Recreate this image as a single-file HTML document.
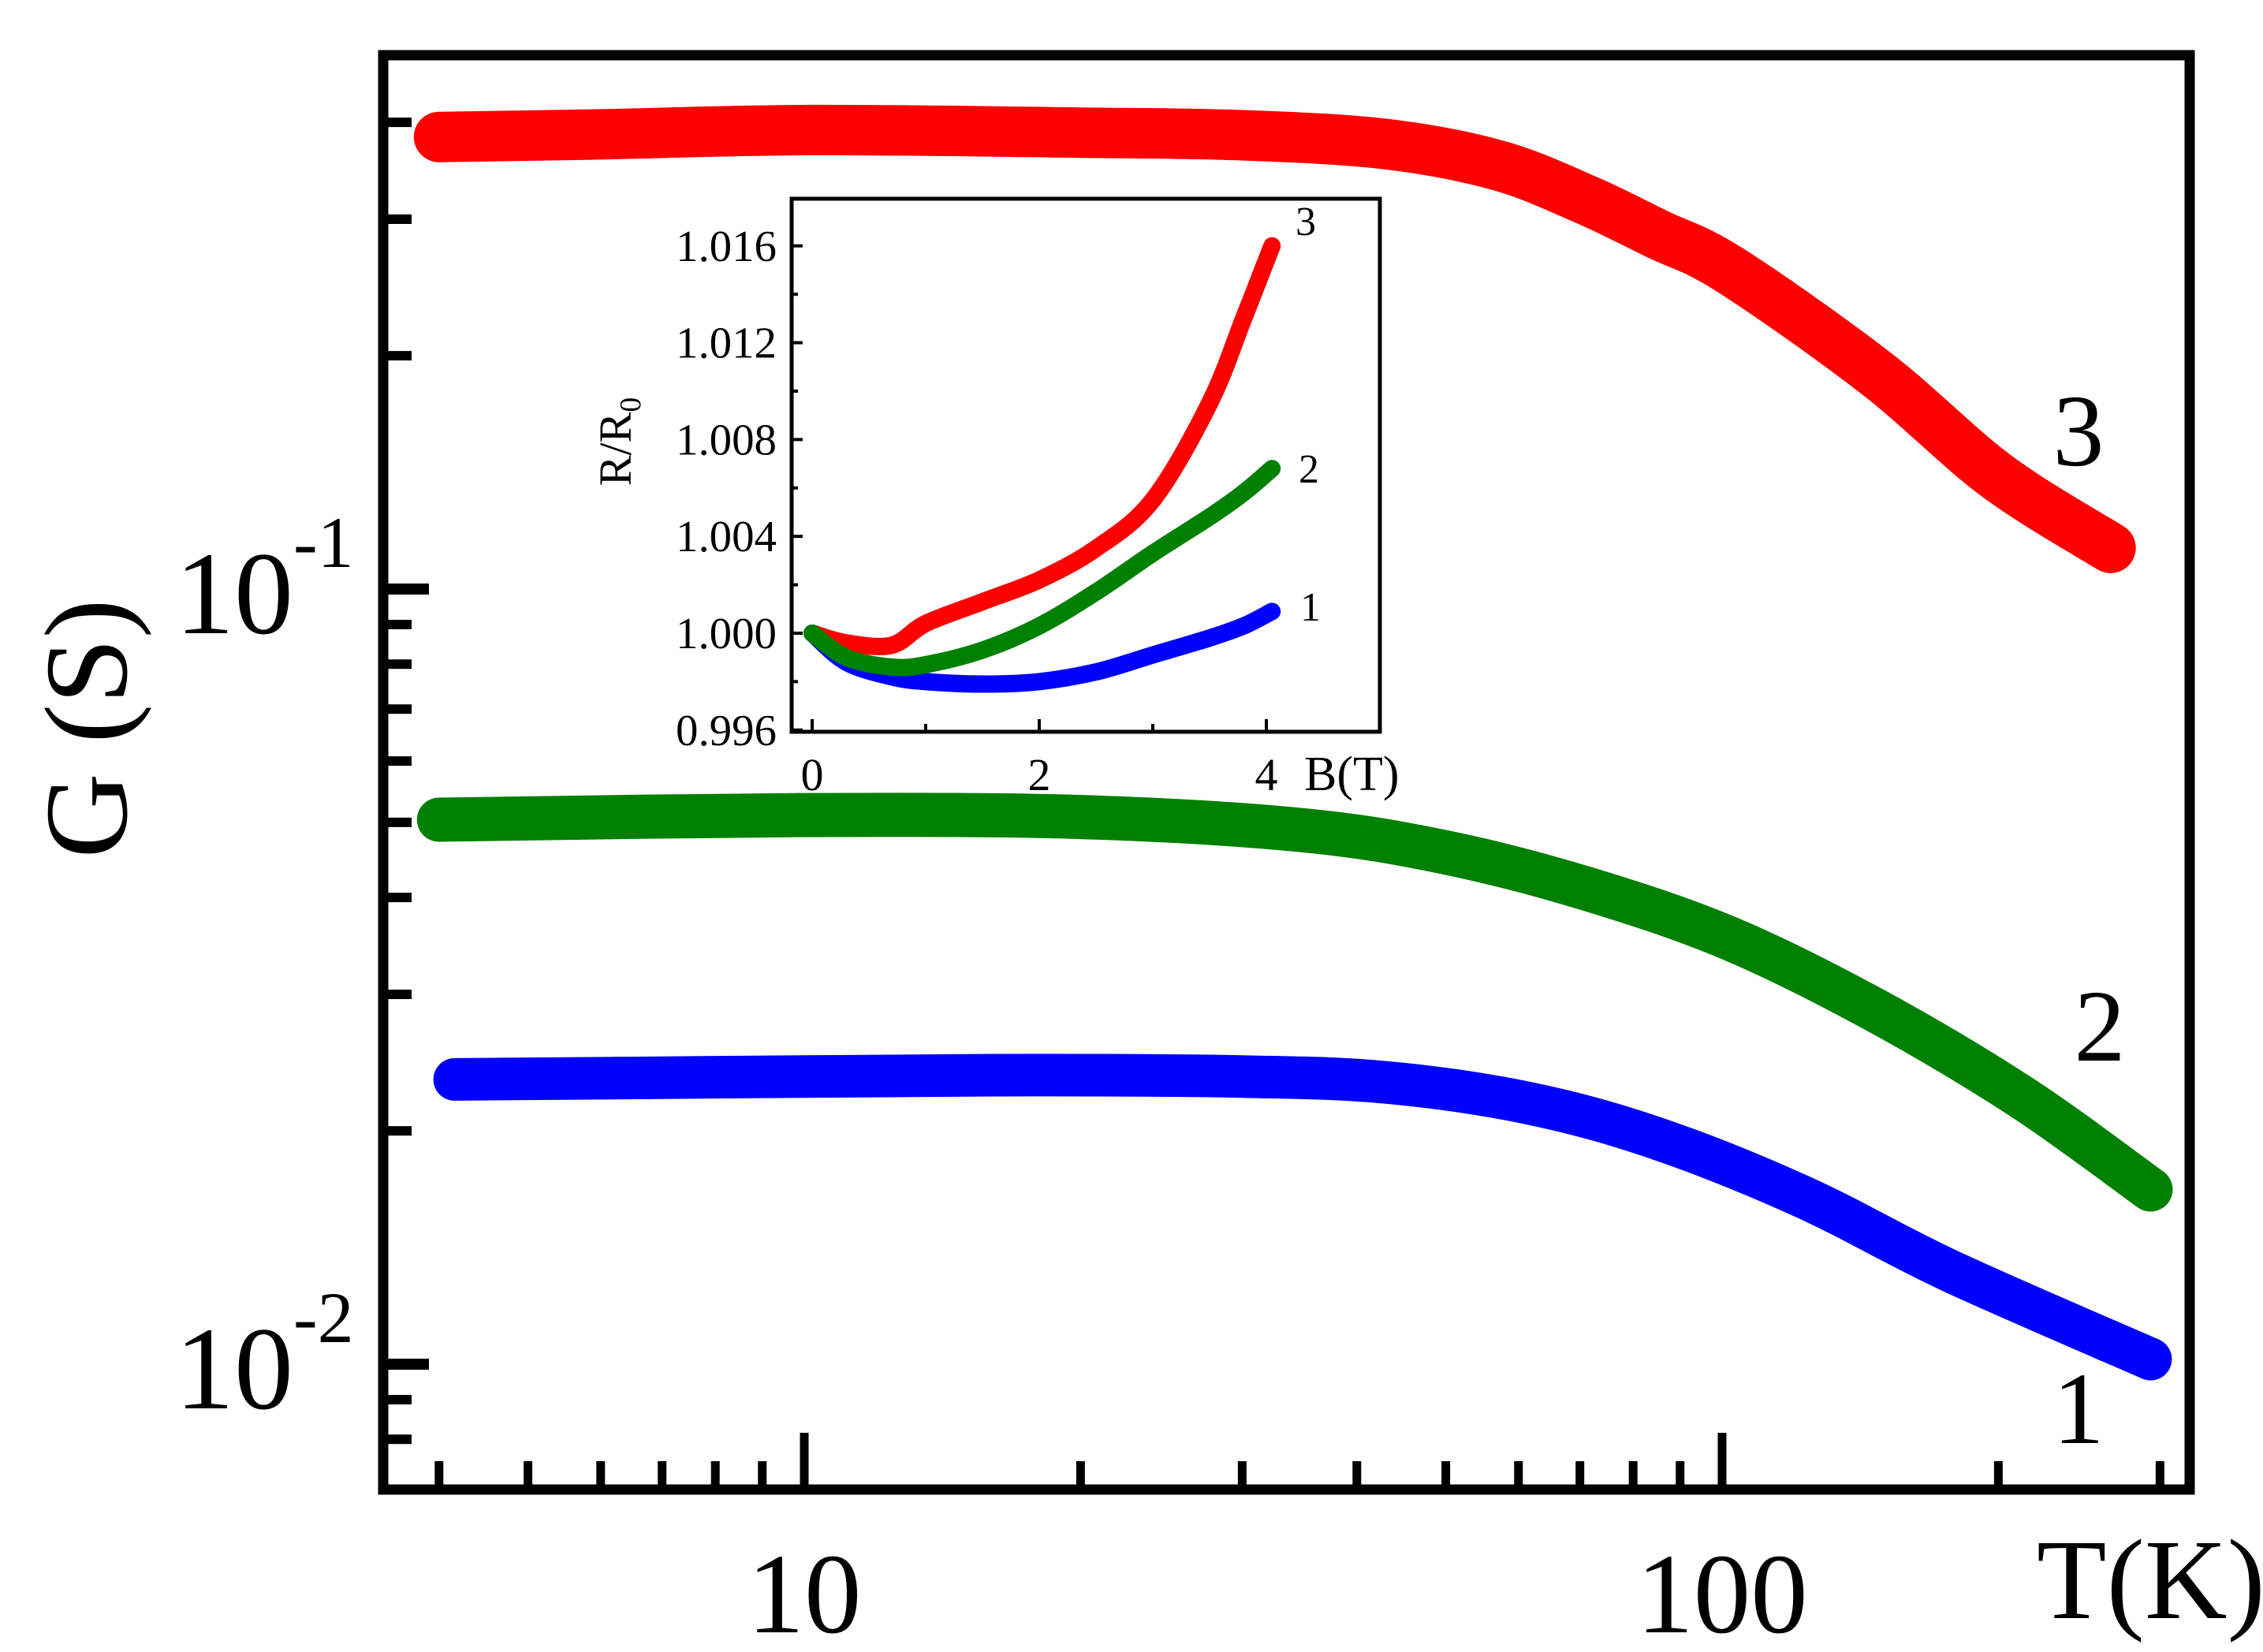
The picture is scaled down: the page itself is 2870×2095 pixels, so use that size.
<!DOCTYPE html>
<html><head><meta charset="utf-8"><style>
html,body{margin:0;padding:0;background:#fff}
svg{display:block;font-family:"Liberation Serif","DejaVu Serif",serif}
</style></head><body>
<svg id="chart" width="2870" height="2095" viewBox="0 0 2870 2095" xmlns="http://www.w3.org/2000/svg">
<g id="main-plot"></g>
<g id="inset-plot"></g>
</svg>
<script>
// ---- main chart data ----
const redT = [4.0, 6, 10.1, 20, 30, 43, 57, 71, 85, 102, 147, 199, 265];
const redG = [0.383, 0.386, 0.391, 0.388, 0.385, 0.375, 0.352, 0.318, 0.287, 0.258, 0.190, 0.140, 0.113];
const greenT = [4.0, 10.1, 20, 34.6, 49.7, 71, 102, 147, 212, 293];
const greenG = [0.0504, 0.0511, 0.0508, 0.0489, 0.0458, 0.0411, 0.0354, 0.0286, 0.0221, 0.0168];
const blueT = [4.16, 10, 18, 30, 43, 61.7, 85.5, 123, 177, 293];
const blueG = [0.0233, 0.0235, 0.0236, 0.0235, 0.0231, 0.0217, 0.0195, 0.0164, 0.0132, 0.01015];
const xMinorTicks = [4,5,6,7,8,9,20,30,40,50,60,70,80,90,200,300];
const xMajorTicks = [10,100];
const xMajorLabels = ["10","100"];
const yMajorTicks = [0.1,0.01];
const yMajorExps = ["-1","-2"];
const yMinorTicks = [0.008,0.009,0.02,0.03,0.04,0.05,0.06,0.07,0.08,0.09,0.2,0.3,0.4];
// ---- inset data ----
const insetB = [0, 0.3, 0.7, 1, 1.5, 2, 2.5, 3, 3.5, 3.8, 4.05];
const insetRed = [1.0, 0.9996, 0.9995, 1.0004, 1.0013, 1.0022, 1.0035, 1.0055, 1.0095, 1.0130, 1.0160];
const insetGreen = [1.0, 0.9990, 0.9986, 0.9987, 0.9993, 1.0003, 1.0017, 1.0033, 1.0048, 1.0058, 1.0068];
const insetBlue = [1.0, 0.9988, 0.9982, 0.9980, 0.9979, 0.9980, 0.9984, 0.9991, 0.9998, 1.0003, 1.0009];
const insetYTicks = [0.996, 1.000, 1.004, 1.008, 1.012, 1.016];
const insetYLabels = ["0.996","1.000","1.004","1.008","1.012","1.016"];
const insetXTicks = [0, 2, 4];
const insetXLabels = ["0","2","4"];

const NS = "http://www.w3.org/2000/svg";
function mk(tag, attrs, parent){const e=document.createElementNS(NS,tag);for(const k in attrs)e.setAttribute(k,attrs[k]);parent.appendChild(e);return e;}

const L=486,R=2777,T=70,B=1889;
const xs = t => 1020 + (Math.log10(t)-1)*1164;
const ys = g => 747 - (Math.log10(g)+1)*983;
const main = document.getElementById('main-plot');

function series(xsArr, ysArr, xf, yf, color, w, name, parent){
  const P = xsArr.map((x,i)=>[xf(x), yf(ysArr[i])]);
  let d='M'+P[0][0].toFixed(1)+' '+P[0][1].toFixed(1);
  for(let i=0;i<P.length-1;i++){
    const p0=P[Math.max(i-1,0)],p1=P[i],p2=P[i+1],p3=P[Math.min(i+2,P.length-1)];
    const c1=[p1[0]+(p2[0]-p0[0])/6,p1[1]+(p2[1]-p0[1])/6];
    const c2=[p2[0]-(p3[0]-p1[0])/6,p2[1]-(p3[1]-p1[1])/6];
    d+='C'+c1[0].toFixed(1)+' '+c1[1].toFixed(1)+' '+c2[0].toFixed(1)+' '+c2[1].toFixed(1)+' '+p2[0].toFixed(1)+' '+p2[1].toFixed(1);
  }
  const p=mk('path',{d:d,fill:'none',stroke:color,'stroke-width':w,'stroke-linecap':'round','stroke-linejoin':'round'},parent);
  
  
}
series(redT, redG, xs, ys, '#ff0000', 64, 'curve-3-red', main);
series(greenT, greenG, xs, ys, '#008000', 56, 'curve-2-green', main);
series(blueT, blueG, xs, ys, '#0000ff', 54, 'curve-1-blue', main);

const fr=mk('rect',{x:L,y:T,width:R-L,height:B-T,fill:'none',stroke:'#000','stroke-width':13},main);


xMinorTicks.forEach(v=>{const l=mk('line',{x1:xs(v),x2:xs(v),y1:B,y2:B-36,stroke:'#000','stroke-width':11},main);
  
  });
xMajorTicks.forEach((v,i)=>{const l=mk('line',{x1:xs(v),x2:xs(v),y1:B,y2:B-72,stroke:'#000','stroke-width':11},main);
  
  
  const t=mk('text',{x:xs(v),y:2070,'font-size':145,'text-anchor':'middle'},main);t.textContent=xMajorLabels[i];
  
  });
yMinorTicks.forEach(v=>{const l=mk('line',{x1:L,x2:L+36,y1:ys(v),y2:ys(v),stroke:'#000','stroke-width':12},main);
  
  });
yMajorTicks.forEach((v,i)=>{const l=mk('line',{x1:L,x2:L+58,y1:ys(v),y2:ys(v),stroke:'#000','stroke-width':14},main);
  
  
  const t=mk('text',{x:222,y:ys(v)+56,'font-size':150},main);
  
  
  t.textContent='10';
  const s=mk('tspan',{dy:-84,'font-size':92},t);s.textContent=yMajorExps[i];});
const yt=mk('text',{x:0,y:0,'font-size':150,'text-anchor':'middle',transform:'translate(160,924) rotate(-90)'},main);yt.textContent='G (S)';


const xt=mk('text',{x:2583,y:2052,'font-size':145},main);xt.textContent='T(K)';


[['3',2636,590],['2',2663,1345],['1',2636,1830]].forEach(a=>{const t=mk('text',{x:a[1],y:a[2],'font-size':130,'text-anchor':'middle'},main);t.textContent=a[0];
  
  });

const iL=1004,iR=1750,iT=252,iB=928;
const bx = b => 1030 + b*144;
const ry = r => 803 - (r-1.0)/0.001*30.7;
const ins=document.getElementById('inset-plot');
mk('rect',{x:iL,y:iT,width:iR-iL,height:iB-iT,fill:'#fff',stroke:'none'},ins);
series(insetB, insetRed, bx, ry, '#ff0000', 22, 'inset-curve-3-red', ins);
series(insetB, insetBlue, bx, ry, '#0000ff', 22, 'inset-curve-1-blue', ins);
series(insetB, insetGreen, bx, ry, '#008000', 22, 'inset-curve-2-green', ins);
const ifr=mk('rect',{x:iL,y:iT,width:iR-iL,height:iB-iT,fill:'none',stroke:'#000','stroke-width':5},ins);


insetYTicks.forEach((v,i)=>{const l=mk('line',{x1:iL,x2:iL+14,y1:ry(v),y2:ry(v),stroke:'#000','stroke-width':4},ins);
  
  
  if(i<insetYTicks.length-1){const m=mk('line',{x1:iL,x2:iL+8,y1:ry(v+0.002),y2:ry(v+0.002),stroke:'#000','stroke-width':4},ins);
    
    }
  const t=mk('text',{x:985,y:ry(v)+19,'font-size':56,'text-anchor':'end','textLength':128,'lengthAdjust':'spacingAndGlyphs'},ins);t.textContent=insetYLabels[i];
  
  });
[0,1,2,3,4].forEach(v=>{const l=mk('line',{x1:bx(v),x2:bx(v),y1:iB,y2:iB-(v%2?10:16),stroke:'#000','stroke-width':4},ins);
  
  });
insetXTicks.forEach((v,i)=>{const t=mk('text',{x:bx(v),y:1002,'font-size':58,'text-anchor':'middle'},ins);t.textContent=insetXLabels[i];
  
  });
const bt=mk('text',{x:1654,y:1002,'font-size':62},ins);bt.textContent='B(T)';


const rt=mk('text',{x:0,y:0,'font-size':58,'text-anchor':'middle',transform:'translate(800,560) rotate(-90)'},ins);


rt.textContent='R/R';const sub=mk('tspan',{dy:12,'font-size':38},rt);sub.textContent='0';
[['3',1656,298],['2',1660,612],['1',1662,787]].forEach(a=>{const t=mk('text',{x:a[1],y:a[2],'font-size':52,'text-anchor':'middle'},ins);t.textContent=a[0];
  
  });
</script>
</body></html>
